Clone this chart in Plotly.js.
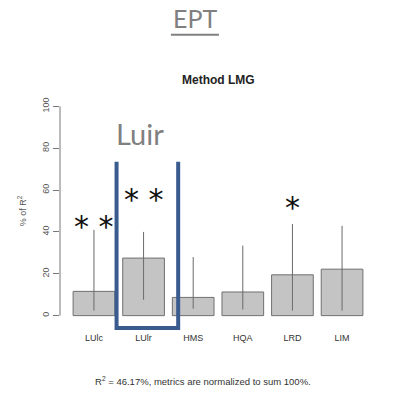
<!DOCTYPE html>
<html>
<head>
<meta charset="utf-8">
<script src="https://cdn.plot.ly/plotly-3.0.1.min.js"></script>
<style>
  html, body { margin: 0; padding: 0; background: #ffffff; }
  #chart { width: 397px; height: 393px; }
</style>
</head>
<body>
<div id="chart"></div>
<script>
// Relative importance (LMG), % of R², with bootstrap confidence intervals
const categories = ["LUlc", "LUlr", "HMS", "HQA", "LRD", "LIM"];
const shares = [11.6, 27.5, 8.7, 11.3, 19.5, 22.2];
const ciUpper = [41.0, 40.0, 28.0, 33.5, 43.8, 42.9];
const ciLower = [2.4, 7.6, 3.3, 2.9, 2.4, 2.4];
const significance = ["* *", "* *", "", "", "*", ""];
const starLevel = [45.0, 58.1, 0, 0, 53.9, 0];
const yTicks = [0, 20, 40, 60, 80, 100];

const xIdx = categories.map((_, i) => i);

const bars = {
  type: "bar",
  x: xIdx,
  y: shares,
  width: 0.84,
  marker: { color: "#c4c4c4", line: { color: "#707070", width: 1 } },
  error_y: {
    type: "data",
    symmetric: false,
    array: ciUpper.map((u, i) => u - shares[i]),
    arrayminus: shares.map((v, i) => v - ciLower[i]),
    color: "#6a6a6a",
    thickness: 1,
    width: 0
  },
  hoverinfo: "skip"
};

// significance stars above the bars
const starAnnotations = [];
significance.forEach((s, i) => {
  if (!s) return;
  starAnnotations.push({
    x: i,
    y: starLevel[i],
    xref: "x",
    yref: "y",
    xanchor: "center",
    yanchor: "middle",
    yshift: -5,
    text: s,
    showarrow: false,
    font: { family: "DejaVu Sans", size: 30, color: "#111111" }
  });
});

const layout = {
  width: 397,
  height: 393,
  margin: { l: 60, r: 21, t: 98, b: 69 },
  paper_bgcolor: "#ffffff",
  plot_bgcolor: "#ffffff",
  showlegend: false,
  bargap: 0,
  xaxis: {
    range: [-0.684, 5.684],
    tickmode: "array",
    tickvals: xIdx,
    ticktext: categories,
    showgrid: false,
    zeroline: false,
    showline: false,
    ticks: "",
    tickfont: { family: "Liberation Sans", size: 9, color: "#333333" },
    ticklabelstandoff: 7
  },
  yaxis: {
    range: [-4, 104],
    tickmode: "array",
    tickvals: yTicks,
    ticktext: yTicks.map(String),
    tickangle: -90,
    ticks: "outside",
    ticklen: 6,
    tickcolor: "#777777",
    tickwidth: 1,
    showgrid: false,
    zeroline: false,
    showline: false,
    tickfont: { family: "Liberation Sans", size: 9, color: "#555555" },
    title: {
      text: "% of R<sup>2</sup>",
      font: { family: "Liberation Sans", size: 9, color: "#555555" },
      standoff: 13
    }
  },
  shapes: [
    // y axis line spanning 0–100 only
    { type: "line", xref: "paper", yref: "y", x0: 0, x1: 0, y0: 0, y1: 100,
      line: { color: "#777777", width: 1 } },
    // open-topped frame around LUlr
    { type: "path", xref: "paper", yref: "paper",
      path: "M 0.179 0.718 L 0.179 -0.018 L 0.374 -0.018 L 0.374 0.718",
      line: { color: "#3a5b8e", width: 4 } },
    // underline for the heading
    { type: "line", xref: "paper", yref: "paper",
      x0: 0.351, x1: 0.503, y0: 1.280, y1: 1.280,
      line: { color: "#808080", width: 2 } }
  ],
  annotations: [
    { xref: "paper", yref: "paper", x: 0.427, y: 1.353, xanchor: "center", yanchor: "middle",
      text: "EPT", showarrow: false,
      font: { family: "Lato", size: 25, color: "#808080" } },
    { xref: "paper", yref: "paper", x: 0.500, y: 1.080, xanchor: "center", yanchor: "middle",
      text: "<b>Method LMG</b>", showarrow: false,
      font: { family: "Liberation Sans", size: 12, color: "#222222" } },
    { xref: "paper", yref: "paper", x: 0.253, y: 0.845, xanchor: "center", yanchor: "middle",
      text: "Luir", showarrow: false,
      font: { family: "Lato", size: 29, color: "#808080" } },
    { xref: "paper", yref: "paper", x: 0.452, y: -0.252, xanchor: "center", yanchor: "middle",
      text: "R<sup>2</sup> = 46.17%, metrics are normalized to sum 100%.", showarrow: false,
      font: { family: "Liberation Sans", size: 9.5, color: "#333333" } }
  ].concat(starAnnotations)
};

Plotly.newPlot("chart", [bars], layout, { displayModeBar: false, staticPlot: true });
</script>
</body>
</html>
